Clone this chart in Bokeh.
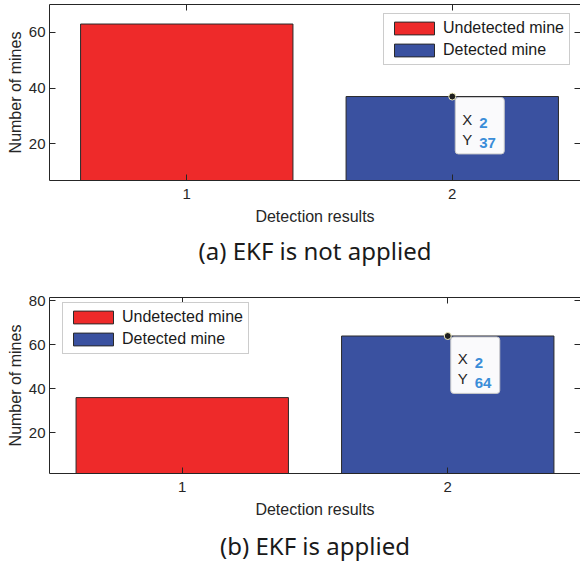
from bokeh.plotting import figure
from bokeh.models import (ColumnDataSource, Range1d, LinearAxis, FixedTicker,
                          Label, Title)
from bokeh.layouts import column
from bokeh.embed import file_html
from bokeh.resources import INLINE

# ---------------- data ----------------
categories = [1, 2]
series_labels = ["Undetected mine", "Detected mine"]
bar_colors = ["#EE2A2A", "#3A51A0"]
counts_a = [63, 37]          # (a) EKF is not applied
counts_b = [36, 64]          # (b) EKF is applied
xlim_a = (0.483, 2.483)
xlim_b = (0.5, 2.5)
ylim_a = (6.9, 70)
ylim_b = (1.5, 81.5)
yticks_a = [20, 40, 60]
yticks_b = [20, 40, 60, 80]
captions = ["(a) EKF is not applied", "(b) EKF is applied"]
x_title = "Detection results"
y_title = "Number of mines"
tip_index = 1

AX = "#262626"
FONT = "Liberation Sans"


def style_axis(ax, ticks):
    ax.ticker = FixedTicker(ticks=ticks)
    ax.major_tick_in = 6
    ax.major_tick_out = 0
    ax.minor_tick_in = 0
    ax.minor_tick_out = 0
    ax.axis_line_color = AX
    ax.major_tick_line_color = AX
    ax.major_label_text_font = FONT
    ax.major_label_text_font_size = "15px"
    ax.major_label_text_color = AX
    ax.axis_label_text_font = FONT
    ax.axis_label_text_font_size = "16px"
    ax.axis_label_text_font_style = "normal"
    ax.axis_label_text_color = AX


def bare_axis(ticks, line):
    ax = LinearAxis(ticker=FixedTicker(ticks=ticks), major_tick_in=6, major_tick_out=0,
                    minor_tick_in=0, minor_tick_out=0,
                    axis_line_color=AX if line else None, major_tick_line_color=AX,
                    major_label_overrides={t: "" for t in ticks},
                    major_label_text_font_size="1px", major_label_text_color=None,
                    major_label_standoff=0)
    return ax


def panel(counts, xlim, ylim, yticks, caption, leg_loc, mb_top, mb_bottom, cap_gap):
    p = figure(frame_width=531, frame_height=176,
               x_range=Range1d(*xlim), y_range=Range1d(*ylim),
               output_backend="svg", toolbar_location=None,
               min_border_left=49, min_border_right=0,
               min_border_top=mb_top, min_border_bottom=mb_bottom)
    p.outline_line_color = None
    p.grid.visible = False
    p.background_fill_color = "white"
    p.border_fill_color = "white"

    src = ColumnDataSource(dict(x=categories, top=counts, color=bar_colors,
                                label=series_labels))
    p.vbar(x="x", top="top", width=0.8, fill_color="color", line_color="#2a2a2a",
           line_width=1, source=src, legend_field="label")

    style_axis(p.xaxis[0], categories)
    style_axis(p.yaxis[0], yticks)
    p.xaxis[0].axis_label = x_title
    p.yaxis[0].axis_label = y_title
    p.xaxis[0].major_label_standoff = 8
    p.xaxis[0].axis_label_standoff = 6
    p.yaxis[0].major_label_standoff = 4
    p.yaxis[0].axis_label_standoff = 2

    p.add_layout(bare_axis(yticks, False), "right")
    p.add_layout(bare_axis(categories, True), "above")

    p.add_layout(Title(text=caption, align="center", text_font="Noto Sans",
                       text_font_size="24px", text_font_style="normal",
                       text_color="#1a1a1a", standoff=cap_gap), "below")

    leg = p.legend[0]
    leg.location = leg_loc
    leg.label_text_font = FONT
    leg.label_text_font_size = "16px"
    leg.label_text_color = "#1a1a1a"
    leg.glyph_width = 50
    leg.glyph_height = 16
    leg.label_height = 16
    leg.label_standoff = 4
    leg.padding = 5
    leg.spacing = 4
    leg.margin = 0
    leg.border_line_color = "#9a9a9a"
    leg.border_line_width = 1
    leg.background_fill_alpha = 1.0

    # data tip
    tx = categories[tip_index]
    ty = counts[tip_index]
    p.add_layout(Label(x=tx, y=ty, x_offset=3, y_offset=-1, text="X\nY",
                       anchor="top_left", text_align="left", text_baseline="top",
                       text_font=FONT, text_font_size="15px", text_color=AX,
                       text_line_height=1.2,
                       background_fill_color="#FAFAFC", border_line_color="#C8C8C8",
                       padding=dict(left=7, right=32, top=13, bottom=6),
                       border_radius=3))
    p.add_layout(Label(x=tx, y=ty, x_offset=27, y_offset=-26.5, text=str(tx),
                       text_font=FONT, text_font_size="15px", text_font_style="bold",
                       text_color="#3A8DD8", text_baseline="alphabetic"))
    p.add_layout(Label(x=tx, y=ty, x_offset=27, y_offset=-46.5, text=str(ty),
                       text_font=FONT, text_font_size="15px", text_font_style="bold",
                       text_color="#3A8DD8", text_baseline="alphabetic"))
    p.scatter(x=[tx], y=[ty], size=7, fill_color="#1e1e1e", line_color="#f3efc0",
              line_width=1)
    return p


p1 = panel(counts_a, xlim_a, ylim_a, yticks_a, captions[0], (334, 115), 4, 100, 8)
p2 = panel(counts_b, xlim_b, ylim_b, yticks_b, captions[1], (13, 119), 17, 40, 12)

layout = column(p1, p2, spacing=0)

html = file_html(layout, INLINE)
open("out.html", "w").write(html)
